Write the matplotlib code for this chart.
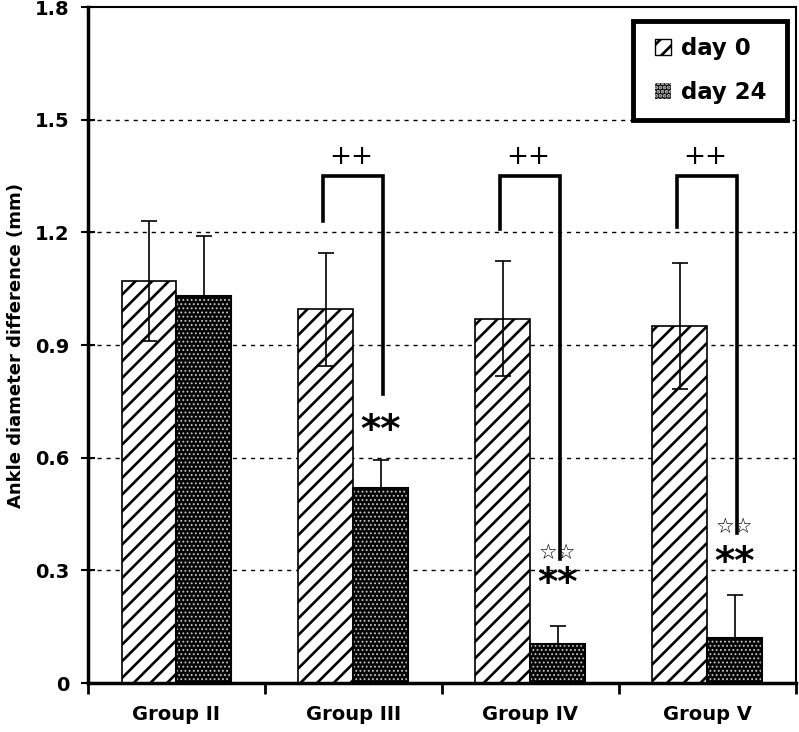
import matplotlib
matplotlib.use("Agg")
import matplotlib.pyplot as plt
import numpy as np
from matplotlib.patches import Patch, Rectangle

groups = ["Group II", "Group III", "Group IV", "Group V"]
day0 = [1.07, 0.995, 0.97, 0.95]
day0_err = [0.16, 0.15, 0.153, 0.168]
day24 = [1.03, 0.52, 0.105, 0.12]
day24_err = [0.16, 0.075, 0.046, 0.115]

# significance brackets (groups III-V): left leg bottom, top, right leg bottom
bracket_groups = [1, 2, 3]
bracket_left_bottom = [1.23, 1.21, 1.215]
bracket_top = [1.35, 1.35, 1.35]
bracket_right_bottom = [0.77, 0.33, 0.40]
star_groups = [1, 2, 3]
star_labels = ["**", "**", "**"]
star_y = [0.67, 0.265, 0.32]
open_star_groups = [2, 3]
open_star_y = [0.345, 0.415]

plt.rcParams["font.family"] = ["DejaVu Sans"]
plt.rcParams["hatch.linewidth"] = 1.9


def hatch_lw(patch, lw):
    if hasattr(patch, "set_hatch_linewidth"):
        patch.set_hatch_linewidth(lw)
    else:
        patch._hatch_linewidth = lw


fig = plt.figure(figsize=(7.99, 7.32), dpi=100)
ax = fig.add_axes([0.110, 0.0669, 0.886, 0.9235])

x = np.arange(len(groups))
w = 0.31
ax.set_xlim(-0.5, len(groups) - 0.5)
ax.set_ylim(0, 1.8)

# grid
for yv in [0.3, 0.6, 0.9, 1.2, 1.5]:
    ax.axhline(yv, color="black", lw=1, linestyle=(0, (3, 3.5)), zorder=0)

# day 0 bars
bars0 = ax.bar(x - w / 2, day0, w, facecolor="white", edgecolor="black",
               hatch="//", lw=1.2, zorder=2)
for p in bars0:
    hatch_lw(p, 1.9)
ax.errorbar(x - w / 2, day0, yerr=day0_err, fmt="none", ecolor="black",
            elinewidth=1.2, capsize=6, capthick=1.2, zorder=3)
day0_handle = Patch(facecolor="white", edgecolor="black", hatch="//", lw=1)
hatch_lw(day0_handle, 1.9)

# day 24 bars (dark with light dots)
bars24 = ax.bar(x + w / 2, day24, w, facecolor="#050505", edgecolor="#c8c8c8",
                hatch="....", lw=0, zorder=2)
for p in bars24:
    hatch_lw(p, 0.8)
ax.bar(x + w / 2, day24, w, fill=False, edgecolor="black", lw=1.5, zorder=2.5)
ax.errorbar(x + w / 2, day24, yerr=[np.zeros(len(day24)), day24_err],
            fmt="none", ecolor="black", elinewidth=1.2, capsize=6,
            capthick=1.2, zorder=3)
day24_handle = Patch(facecolor="#050505", edgecolor="#c8c8c8", hatch="....",
                     lw=0)
hatch_lw(day24_handle, 0.8)

# brackets
for g, lb, top, rb in zip(bracket_groups, bracket_left_bottom,
                          bracket_top, bracket_right_bottom):
    xl = g - 0.17
    xr = g + 0.165
    ax.plot([xl, xl, xr, xr], [lb, top, top, rb], color="black", lw=2.6,
            solid_joinstyle="miter", zorder=4)
    ax.text((xl + xr) / 2 - 0.01, 1.40, "++", ha="center",
            va="center", fontsize=19)

for g, lab, yv in zip(star_groups, star_labels, star_y):
    ax.text(g + 0.155, yv, lab, ha="center", va="center", fontsize=28,
            fontweight="bold")

for g, yv in zip(open_star_groups, open_star_y):
    ax.text(g + 0.155, yv, "☆☆", ha="center", va="center", fontsize=15)

# axes styling
for side in ["left", "bottom"]:
    ax.spines[side].set_linewidth(2.5)
for side in ["top", "right"]:
    ax.spines[side].set_linewidth(1.5)

ax.set_yticks([0, 0.3, 0.6, 0.9, 1.2, 1.5, 1.8])
ax.set_yticklabels(["0", "0.3", "0.6", "0.9", "1.2", "1.5", "1.8"],
                   fontsize=14, fontweight="bold")
ax.tick_params(axis="y", direction="inout", length=10, width=1.5, pad=8)

ax.set_xticks(np.arange(-0.5, len(groups)), minor=False)
ax.set_xticklabels([])
ax.tick_params(axis="x", direction="out", length=8, width=2)
ax.set_xticks(x, minor=True)
ax.set_xticklabels(groups, minor=True, fontsize=14, fontweight="bold")
ax.tick_params(axis="x", which="minor", length=0, pad=16)

ax.set_ylabel("Ankle diameter difference (mm)", fontsize=13,
              fontweight="bold", labelpad=7)

# legend with a separate thick frame
leg = ax.legend([day0_handle, day24_handle], ["day 0", "day 24"],
                loc="upper left", bbox_to_anchor=(0.801, 0.955),
                frameon=False, handlelength=0.7, handleheight=0.7,
                handletextpad=0.45, labelspacing=0.9, borderpad=0,
                borderaxespad=0, prop={"weight": "bold", "size": 16.5})
ax.add_patch(Rectangle((0.770, 0.833), 0.217, 0.146, transform=ax.transAxes,
                       fill=True, facecolor="white", edgecolor="black",
                       lw=3.5, zorder=5))
leg.set_zorder(6)

fig.savefig("out.png", dpi=100)
